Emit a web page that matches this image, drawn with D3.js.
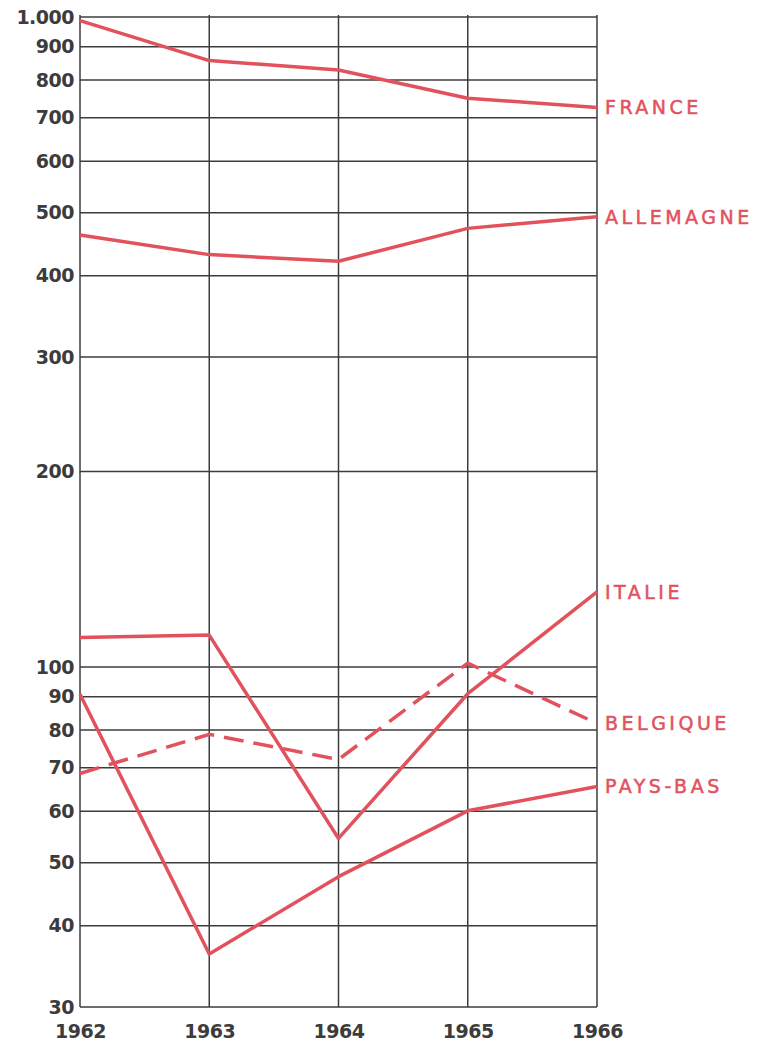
<!DOCTYPE html>
<html>
<head>
<meta charset="utf-8">
<script src="https://cdn.jsdelivr.net/npm/d3@7"></script>
<style>
  html, body { margin: 0; padding: 0; background: #ffffff; }
  svg { display: block; }
</style>
</head>
<body>
<svg id="chart" width="763" height="1042"></svg>
<script>
// Years on the horizontal axis
const years = [1962, 1963, 1964, 1965, 1966];

// Series values, one array per country
const france    = [987, 857, 829, 750, 726];
const allemagne = [462, 431, 421, 473, 493];
const italie    = [111, 112, 54.5, 91, 130.5];
const belgique  = [68.6, 78.8, 72.1, 101.4, 81.9];
const paysBas   = [90.8, 36.2, 47.6, 60.1, 65.5];

const seriesNames = ["FRANCE", "ALLEMAGNE", "ITALIE", "BELGIQUE", "PAYS-BAS"];
const seriesValues = [france, allemagne, italie, belgique, paysBas];
const seriesDashed = [false, false, false, true, false];

// Logarithmic tick values and their printed labels
const yTicks = [30, 40, 50, 60, 70, 80, 90, 100, 200, 300, 400, 500, 600, 700, 800, 900, 1000];
const yTickLabels = ["30", "40", "50", "60", "70", "80", "90", "100", "200", "300", "400", "500", "600", "700", "800", "900", "1.000"];

const red = "#e2525d";
const ink = "#3c3c3c";

const svg = d3.select("#chart");
const plot = { left: 80, right: 597, top: 17, bottom: 1007 };

const x = d3.scalePoint().domain(years).range([plot.left, plot.right]);
const y = d3.scaleLog().domain([30, 1000]).range([plot.bottom, plot.top]);

// Horizontal grid lines
svg.append("g")
  .selectAll("line")
  .data(yTicks)
  .join("line")
  .attr("x1", plot.left)
  .attr("x2", plot.right)
  .attr("y1", d => y(d))
  .attr("y2", d => y(d))
  .attr("stroke", ink)
  .attr("stroke-width", 1.5);

// Vertical grid lines at each year
svg.append("g")
  .selectAll("line")
  .data(years)
  .join("line")
  .attr("x1", d => x(d))
  .attr("x2", d => x(d))
  .attr("y1", plot.top - 2)
  .attr("y2", plot.bottom)
  .attr("stroke", ink)
  .attr("stroke-width", 1.5);

// Y axis labels
const yAxis = d3.axisLeft(y)
  .tickValues(yTicks)
  .tickFormat((d, i) => yTickLabels[i])
  .tickSize(0)
  .tickPadding(6);

svg.append("g")
  .attr("transform", `translate(${plot.left},0)`)
  .call(yAxis)
  .call(g => g.select(".domain").remove())
  .call(g => g.selectAll("text")
    .attr("fill", ink)
    .attr("font-family", "'DejaVu Sans', sans-serif")
    .attr("font-weight", "bold")
    .attr("font-size", 19)
    .attr("letter-spacing", "-0.5px"));

// X axis labels
const xAxis = d3.axisBottom(x)
  .tickSize(0)
  .tickPadding(18)
  .tickFormat(d3.format("d"));

svg.append("g")
  .attr("transform", `translate(0,${plot.bottom})`)
  .call(xAxis)
  .call(g => g.select(".domain").remove())
  .call(g => g.selectAll("text")
    .attr("fill", ink)
    .attr("font-family", "'DejaVu Sans', sans-serif")
    .attr("font-weight", "bold")
    .attr("font-size", 19)
    .attr("letter-spacing", "-0.5px"));

// Country lines
const line = d3.line()
  .x((d, i) => x(years[i]))
  .y(d => y(d));

const series = seriesNames.map((name, i) => ({
  name,
  values: seriesValues[i],
  dashed: seriesDashed[i]
}));

svg.append("g")
  .selectAll("path")
  .data(series)
  .join("path")
  .attr("d", d => line(d.values))
  .attr("fill", "none")
  .attr("stroke", red)
  .attr("stroke-width", 3.5)
  .attr("stroke-linejoin", "round")
  .attr("stroke-linecap", "butt")
  .attr("stroke-dasharray", d => d.dashed ? "20 10" : null);

// End-of-line country labels
svg.append("g")
  .selectAll("text")
  .data(series)
  .join("text")
  .attr("x", plot.right + 8)
  .attr("y", d => y(d.values[d.values.length - 1]))
  .attr("dy", "0.36em")
  .attr("fill", red)
  .attr("stroke", red)
  .attr("stroke-width", 0.5)
  .attr("font-family", "'DejaVu Sans', sans-serif")
  .attr("font-size", 19)
  .attr("letter-spacing", "3.5px")
  .text(d => d.name);
</script>
</body>
</html>
